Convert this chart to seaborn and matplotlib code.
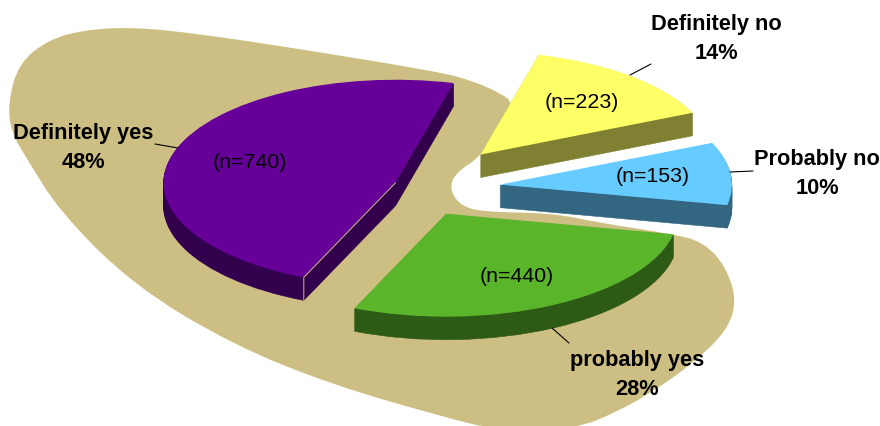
import numpy as np
import matplotlib
matplotlib.use('Agg')
import matplotlib.pyplot as plt
from matplotlib.path import Path
from matplotlib.patches import PathPatch
import seaborn as sns

# ── Data ─────────────────────────────────────
answers = ['Definitely yes', 'probably yes', 'Probably no', 'Definitely no']
counts = [740, 440, 153, 223]

# ── Style ────────────────────────────────────
top_colors = ['#660099', '#5AB52A', '#66CCFF', '#FFFF66']
wall_colors = ['#33004D', '#2D5A15', '#336680', '#808033']
blob_color = '#CDBF84'

sns.set_theme(style='white', palette=top_colors)
plt.rcParams['font.family'] = ['Liberation Sans', 'DejaVu Sans']

# pie is squashed: one data unit is 232 px wide, 103 px high
W, H = 880, 427
CX, CY, A, B = 430, 190, 232, 103
START = 75.5
WALL = 23

explode = [0.157, 0.150, 0.303, 0.337]
nudge_px = [1, -11, 1, 8]   # up on screen


def px(x, y):
    return (x - CX) / A, (CY - y) / B


fig = plt.figure(figsize=(W / 100, H / 100), dpi=100)
ax = fig.add_axes([0, 0, 1, 1])

# ── Tan blob behind the pie ──────────────────
blob = [
    (8, 103), (19, 64), (48, 41), (83, 31), (133, 28), (200, 35), (300, 50),
    (440, 73), (473, 82), (500, 94), (514, 104), (500, 130), (480, 158),
    (458, 172), (449, 187), (458, 205), (480, 213), (553, 214), (600, 224),
    (673, 235), (703, 243), (725, 266), (737, 301), (727, 332), (693, 364),
    (657, 390), (617, 413), (575, 430), (500, 432), (440, 417), (333, 386),
    (233, 346), (133, 286), (60, 213), (27, 160), (11, 133),
]
pts = [px(x, y) for x, y in blob]
verts = [((pts[-1][0] + pts[0][0]) / 2, (pts[-1][1] + pts[0][1]) / 2)]
codes = [Path.MOVETO]
for i, p in enumerate(pts):
    q = pts[(i + 1) % len(pts)]
    verts += [p, ((p[0] + q[0]) / 2, (p[1] + q[1]) / 2)]
    codes += [Path.CURVE3, Path.CURVE3]
ax.add_patch(PathPatch(Path(verts, codes), facecolor=blob_color,
                       edgecolor='none', zorder=0))

# ── Walls: dark pies stacked downward, then the top face ─────
for depth in list(range(WALL, 0, -1)) + [0]:
    cols = top_colors if depth == 0 else wall_colors
    wedges, _ = ax.pie(counts, explode=explode, startangle=START, colors=cols,
                       wedgeprops={'edgecolor': 'none', 'linewidth': 0})
    for w, n in zip(wedges, nudge_px):
        w.set_center((w.center[0], w.center[1] + (n - depth) / B))
        w.set_zorder(1 if depth else 2)
        if depth:
            w.set_edgecolor(w.get_facecolor())
            w.set_linewidth(0.4)

# thin light seam on the purple slice
purple = wedges[0]
cx0, cy0 = purple.center
tip = (cx0 + np.cos(np.radians(purple.theta2)),
       cy0 + np.sin(np.radians(purple.theta2)))
ax.plot([cx0, tip[0], tip[0]], [cy0, tip[1], tip[1] - WALL / B],
        color='#CDBF84', lw=0.7, zorder=3)

ax.set_aspect('auto')
ax.set_xlim(px(0, 0)[0], px(W, 0)[0])
ax.set_ylim(px(0, H)[1], px(0, 0)[1])
ax.axis('off')

# ── Labels ───────────────────────────────────
total = sum(counts)
name_pos = [(83, 148), (637, 375), (817, 174), (716, 39)]
count_pos = [(250, 162), (517, 276), (653, 177), (582, 102)]
leaders = [
    ((155, 145), (178, 149)),
    ((552, 329), (569, 344)),
    ((730, 173), (753, 172)),
    ((630, 76), (651, 65)),
]

for name, n, p1, p2, (a, b) in zip(answers, counts, name_pos, count_pos, leaders):
    ax.text(*px(*p1), f'{name}\n{round(100 * n / total)}%',
            ha='center', va='center', fontsize=15.7, fontweight='bold',
            color='black', linespacing=1.49, zorder=5)
    ax.text(*px(*p2), f'(n={n})', ha='center', va='center',
            fontsize=15.4, color='black', zorder=5)
    pa, pb = px(*a), px(*b)
    ax.plot([pa[0], pb[0]], [pa[1], pb[1]], color='black', lw=0.8, zorder=4)

fig.savefig('out.png', dpi=100)
plt.close(fig)
